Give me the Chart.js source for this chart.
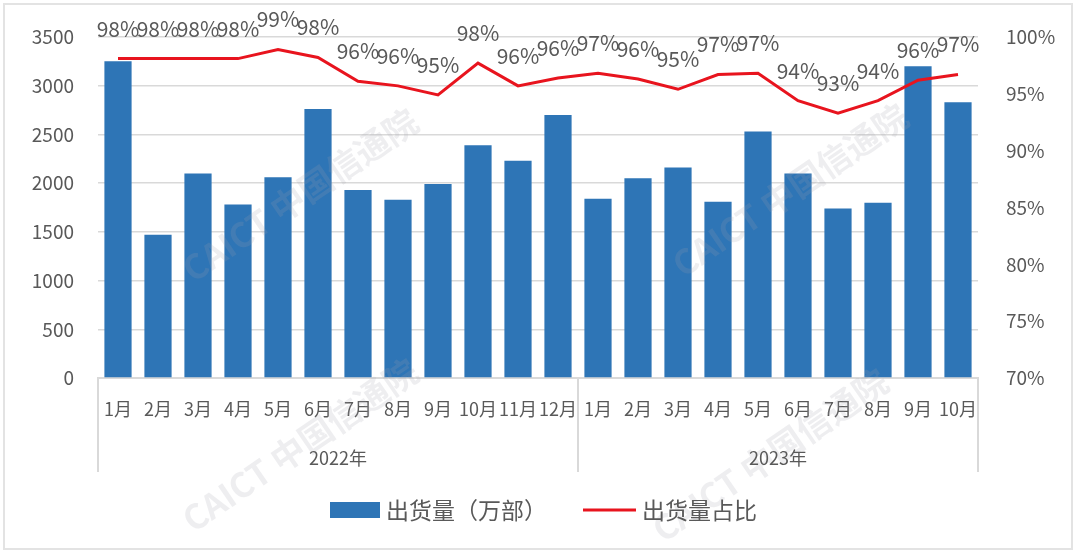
<!DOCTYPE html>
<html>
<head>
<meta charset="utf-8">
<script src="https://cdn.jsdelivr.net/npm/chart.js@4.4.0/dist/chart.umd.min.js"></script>
<style>
  html, body { margin: 0; padding: 0; background: #fff; }
  #wrap { width: 1080px; height: 555px; }
</style>
</head>
<body>
<div id="wrap"><canvas id="myChart" width="1080" height="555"></canvas></div>
<script>
var months = ["1月", "2月", "3月", "4月", "5月", "6月", "7月", "8月", "9月", "10月", "11月", "12月",
  "1月", "2月", "3月", "4月", "5月", "6月", "7月", "8月", "9月", "10月"];
var years = ["2022年", "2023年"];
var yearCounts = [12, 10];
var shipments = [3250, 1470, 2100, 1780, 2060, 2760, 1930, 1830, 1990, 2390, 2230, 2700,
  1840, 2050, 2160, 1810, 2530, 2100, 1740, 1800, 3200, 2830];
var share = [98.1, 98.1, 98.1, 98.1, 98.9, 98.2, 96.1, 95.7, 94.9, 97.7, 95.7, 96.4,
  96.8, 96.3, 95.4, 96.7, 96.8, 94.4, 93.3, 94.4, 96.2, 96.7];
var legendLabels = ["出货量（万部）", "出货量占比"];

var FONT = "'Noto Sans CJK SC', 'Noto Sans', sans-serif";
var GRAY = "#595959";
var LINE = "#d9d9d9";
var BLUE = "#2e75b6";
var RED = "#e8141e";

// background, frame and watermark
var framePlugin = {
  id: "frame",
  beforeDraw: function (chart) {
    var c = chart.ctx;
    c.save();
    c.fillStyle = "#fff";
    c.fillRect(0, 0, chart.width, chart.height);
    c.strokeStyle = "#e3e3e3";
    c.lineWidth = 2;
    c.strokeRect(4, 4, 1068, 545);
    c.restore();
  },
  afterDraw: function (chart) {
    var c = chart.ctx;
    var spots = [[300, 195], [790, 190], [300, 445], [770, 455]];
    c.save();
    c.font = "bold 34px " + FONT;
    c.fillStyle = "rgba(160,160,170,0.18)";
    c.textAlign = "center";
    c.textBaseline = "middle";
    spots.forEach(function (s) {
      c.save();
      c.translate(s[0], s[1]);
      c.rotate(-0.6);
      c.fillText("CAICT 中国信通院", 0, 0);
      c.restore();
    });
    c.restore();
  }
};

// percent labels above the line
var labelPlugin = {
  id: "pctLabels",
  afterDatasetsDraw: function (chart) {
    var c = chart.ctx;
    var meta = chart.getDatasetMeta(1);
    c.save();
    c.font = "21px " + FONT;
    c.fillStyle = GRAY;
    c.textAlign = "center";
    c.textBaseline = "middle";
    meta.data.forEach(function (pt, i) {
      c.fillText(Math.round(share[i]) + "%", pt.x, pt.y - 30);
    });
    c.restore();
  }
};

// year row, separators and legend
var axisPlugin = {
  id: "yearAxis",
  afterDraw: function (chart) {
    var c = chart.ctx;
    var x = chart.scales.x;
    var area = chart.chartArea;
    var half = (x.getPixelForValue(1) - x.getPixelForValue(0)) / 2;
    c.save();
    c.strokeStyle = LINE;
    c.lineWidth = 2;
    var start = 0;
    var edges = [area.left];
    yearCounts.forEach(function (n) {
      start += n;
      edges.push(x.getPixelForValue(start - 1) + half);
    });
    edges.forEach(function (ex) {
      c.beginPath();
      c.moveTo(ex, area.bottom);
      c.lineTo(ex, 472);
      c.stroke();
    });
    c.font = "18px " + FONT;
    c.fillStyle = GRAY;
    c.textAlign = "center";
    c.textBaseline = "middle";
    years.forEach(function (y, i) {
      c.fillText(y, (edges[i] + edges[i + 1]) / 2, 458);
    });

    // legend
    c.font = "23px " + FONT;
    c.textAlign = "left";
    c.fillStyle = BLUE;
    c.fillRect(330, 502, 50, 16);
    c.fillStyle = GRAY;
    c.fillText(legendLabels[0], 386, 510);
    c.strokeStyle = RED;
    c.lineWidth = 3;
    c.beginPath();
    c.moveTo(583, 510);
    c.lineTo(636, 510);
    c.stroke();
    c.fillText(legendLabels[1], 642, 510);
    c.restore();
  }
};

var ctx = document.getElementById("myChart").getContext("2d");
var myChart = new Chart(ctx, {
  type: "bar",
  data: {
    labels: months,
    datasets: [
      {
        type: "bar",
        label: legendLabels[0],
        data: shipments,
        backgroundColor: BLUE,
        barPercentage: 0.68,
        categoryPercentage: 1,
        yAxisID: "y",
        order: 2,
      },
      {
        type: "line",
        label: legendLabels[1],
        data: share,
        borderColor: RED,
        borderWidth: 3,
        pointRadius: 0,
        tension: 0,
        yAxisID: "y1",
        order: 1,
      },
    ],
  },
  options: {
    responsive: false,
    devicePixelRatio: 1,
    animation: false,
    layout: { padding: { top: 37, left: 0, right: 0, bottom: 0 } },
    plugins: {
      legend: { display: false },
      tooltip: { enabled: false },
    },
    scales: {
      x: {
        grid: { display: false, drawTicks: false },
        border: { color: LINE, width: 2 },
        ticks: {
          color: GRAY,
          font: { family: FONT, size: 18 },
          padding: 20,
          maxRotation: 0,
          autoSkip: false,
        },
        afterFit: function (s) { s.height = 177; },
      },
      y: {
        position: "left",
        min: 0,
        max: 3500,
        grid: { color: LINE, lineWidth: 1.5, drawTicks: false },
        border: { display: false },
        ticks: {
          stepSize: 500,
          color: GRAY,
          font: { family: FONT, size: 19 },
          padding: 24,
          callback: function (v) { return String(v); },
        },
        afterFit: function (s) { s.width = 98; },
      },
      y1: {
        position: "right",
        min: 70,
        max: 100,
        grid: { display: false },
        border: { display: false },
        ticks: {
          stepSize: 5,
          color: GRAY,
          font: { family: FONT, size: 19 },
          padding: 20,
          callback: function (v) { return v + "%"; },
        },
        afterFit: function (s) { s.width = 102; },
      },
    },
  },
  plugins: [framePlugin, labelPlugin, axisPlugin],
});
</script>
</body>
</html>
